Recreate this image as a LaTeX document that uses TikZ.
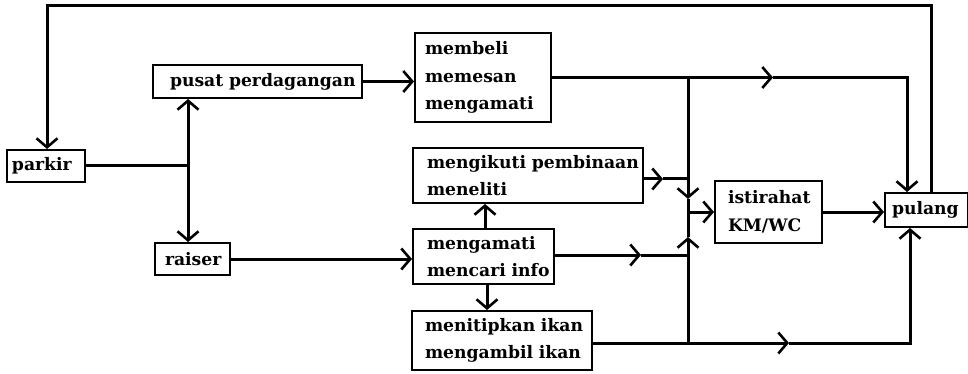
\documentclass[tikz,border=0pt]{standalone}
\usepackage{fontspec}
\setmainfont{DejaVu Serif}
\usetikzlibrary{arrows.meta}
\hbadness=10000 \hfuzz=200pt
\begin{document}
\begin{tikzpicture}[x=1pt,y=-1pt,
  box/.style={draw,line width=2pt,inner ysep=0pt,align=left,
    font=\bfseries\fontsize{17.2}{27.5}\selectfont},
  conn/.style={line width=3pt},
  tip/.style={conn,-{Straight Barb[length=9pt,width=21pt,line width=2.6pt]}},
]
\useasboundingbox[fill=white] (0,0) rectangle (968,374);
% boxes
\node[box,text width=68,inner xsep=5,minimum height=32] (parkir) at (46,166) {\mbox{parkir}};
\node[box,text width=175,inner xsep=17,minimum height=33] (pusat) at (257.5,81.5) {\mbox{pusat perdagangan}};
\node[box,text width=55,inner xsep=10,minimum height=32] (raiser) at (192.5,259) {\mbox{raiser}};
\node[box,text width=116,inner xsep=10,minimum height=89] (membeli) at (483,77.5) {\mbox{membeli}\\\mbox{memesan}\\\mbox{mengamati}};
\node[box,text width=202,inner xsep=14,minimum height=55] (mengikuti) at (528,175.5) {\mbox{mengikuti pembinaan}\\\mbox{meneliti}};
\node[box,text width=113,inner xsep=14,minimum height=55] (mengamati) at (483.5,256.5) {\mbox{mengamati}\\\mbox{mencari info}};
\node[box,text width=154,inner xsep=13,minimum height=59] (menitipkan) at (502,340.5) {\mbox{menitipkan ikan}\\\mbox{mengambil ikan}};
\node[box,text width=81,inner xsep=13,minimum height=62] (istirahat) at (768.5,212) {\mbox{istirahat}\\\mbox{KM/WC}};
\node[box,text width=69,inner xsep=7,minimum height=34] (pulang) at (926.5,210) {\mbox{pulang}};
% coordinates
\coordinate (tr) at (931,6);
\coordinate (tl) at (47,6);
\coordinate (j1) at (188,166);
\coordinate (a1) at (773,77.5);
\coordinate (c1) at (907,77.5);
\coordinate (bt) at (688,77.5);
\coordinate (bd) at (688,199);
\coordinate (bj) at (688,212);
\coordinate (bu) at (688,237);
\coordinate (bb) at (688,343);
\coordinate (r2) at (663,179);
\coordinate (b2) at (688,179);
\coordinate (r3) at (641,255);
\coordinate (b3) at (688,255);
\coordinate (v1) at (485,0);
\coordinate (v2) at (487,0);
\coordinate (e4) at (789,343);
\coordinate (c4) at (910,343);
% connectors
\draw[tip] (pulang.north -| tr) -- (tr) -- (tl) -- (tl |- parkir.north);
\draw[conn] (parkir.east) -- (j1);
\draw[tip] (j1) -- (j1 |- pusat.south);
\draw[tip] (j1) -- (j1 |- raiser.north);
\draw[tip] (pusat.east) -- (membeli.west |- pusat.east);
\draw[tip] (raiser.east) -- (raiser.east -| mengamati.west);
\draw[tip] (membeli.east) -- (a1);
\draw[tip] (a1) -- (c1) -- (c1 |- pulang.north);
\draw[tip] (bt) -- (bd);
\draw[conn] (bd) -- (bj);
\draw[tip] (bb) -- (bu);
\draw[conn] (bu) -- (bj);
\draw[tip] (bj) -- (istirahat.west);
\draw[tip] (mengikuti.east |- r2) -- (r2);
\draw[conn] (r2) -- (b2);
\draw[tip] (mengamati.east |- r3) -- (r3);
\draw[conn] (r3) -- (b3);
\draw[tip] (mengamati.north -| v1) -- (mengikuti.south -| v1);
\draw[tip] (mengamati.south -| v2) -- (menitipkan.north -| v2);
\draw[tip] (menitipkan.east |- e4) -- (e4);
\draw[tip] (e4) -- (c4) -- (c4 |- pulang.south);
\draw[tip] (istirahat.east) -- (pulang.west |- istirahat.east);
\end{tikzpicture}
\end{document}
